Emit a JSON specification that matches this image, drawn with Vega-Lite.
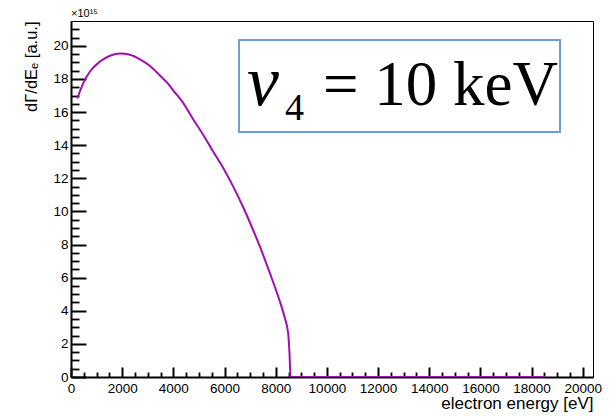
{
  "$schema": "https://vega.github.io/schema/vega-lite/v6.json",
  "autosize": "none",
  "width": 522,
  "height": 356,
  "padding": {"left": 71, "top": 21, "right": 23, "bottom": 39},
  "background": "white",
  "config": {
    "view": {"stroke": "black", "strokeWidth": 1},
    "font": "Liberation Sans",
    "axis": {"grid": false, "labelFont": "Liberation Sans", "titleFont": "Liberation Sans", "labelColor": "black", "titleColor": "black", "tickColor": "black", "domainColor": "black", "labelFontSize": 13.5, "titleFontWeight": "normal", "labelFlush": false, "labelOverlap": false}
  },
  "title": {"text": "×10¹⁵", "anchor": "start", "frame": "group", "fontSize": 11, "fontWeight": "normal", "font": "Liberation Sans", "offset": 2, "color": "black"},
  "datasets": {
    "curve": [
      {"energy": 246, "rate": 16.83},
      {"energy": 480, "rate": 17.75},
      {"energy": 742, "rate": 18.45},
      {"energy": 1133, "rate": 19.05},
      {"energy": 1523, "rate": 19.40},
      {"energy": 1914, "rate": 19.54},
      {"energy": 2305, "rate": 19.46},
      {"energy": 2695, "rate": 19.18},
      {"energy": 3086, "rate": 18.78},
      {"energy": 3450, "rate": 18.25},
      {"energy": 3800, "rate": 17.70},
      {"energy": 4000, "rate": 17.30},
      {"energy": 4388, "rate": 16.54},
      {"energy": 4779, "rate": 15.55},
      {"energy": 5168, "rate": 14.62},
      {"energy": 5559, "rate": 13.61},
      {"energy": 5950, "rate": 12.62},
      {"energy": 6340, "rate": 11.50},
      {"energy": 6730, "rate": 10.25},
      {"energy": 7000, "rate": 9.30},
      {"energy": 7383, "rate": 7.87},
      {"energy": 7773, "rate": 6.27},
      {"energy": 8164, "rate": 4.55},
      {"energy": 8350, "rate": 3.6},
      {"energy": 8490, "rate": 2.6},
      {"energy": 8540, "rate": 1.4},
      {"energy": 8580, "rate": 0},
      {"energy": 18550, "rate": 0}
    ],
    "box": [{"x1": 6566, "x2": 19110, "y1": 14.8, "y2": 20.35}],
    "nu": [{"x": 6878, "y": 16.43, "t": "ν"}],
    "sub": [{"x": 8363, "y": 15.52, "t": "4"}],
    "val": [{"x": 9848, "y": 16.43, "t": "= 10 keV"}]
  },
  "layer": [
    {
      "data": {"name": "curve"},
      "mark": {"type": "line", "color": "#a010b0", "strokeWidth": 2, "interpolate": "monotone", "clip": true},
      "encoding": {
        "x": {"field": "energy", "type": "quantitative", "scale": {"domain": [0, 20400], "nice": false, "zero": false},
          "axis": {"orient": "bottom", "values": [0,2000,4000,6000,8000,10000,12000,14000,16000,18000,20000], "format": "d", "tickSize": -10, "tickWidth": 2, "domainWidth": 2, "labelPadding": 14,
            "title": "electron energy [eV]", "titleAnchor": "end", "titleFontSize": 17, "titlePadding": 1}},
        "y": {"field": "rate", "type": "quantitative", "scale": {"domain": [0, 21.5], "nice": false, "zero": false},
          "axis": {"orient": "left", "values": [0,2,4,6,8,10,12,14,16,18,20], "format": "d", "tickSize": -15, "tickWidth": 2, "domainWidth": 2, "labelPadding": 18,
            "title": "dΓ/dEₑ [a.u.]", "titleAnchor": "end", "titleFontSize": 16.5, "titlePadding": 13}}
      }
    },
    {
      "data": {"name": "box"},
      "mark": {"type": "rect", "fill": "white", "stroke": "#6f9fd6", "strokeWidth": 2},
      "encoding": {
        "x": {"field": "x1", "type": "quantitative",
          "axis": {"orient": "bottom", "values": [500,1000,1500,2500,3000,3500,4500,5000,5500,6500,7000,7500,8500,9000,9500,10500,11000,11500,12500,13000,13500,14500,15000,15500,16500,17000,17500,18500,19000,19500], "labels": false, "domain": false, "tickSize": -5, "tickWidth": 1.8, "title": null}},
        "x2": {"field": "x2"},
        "y": {"field": "y1", "type": "quantitative",
          "axis": {"orient": "left", "values": [0.5,1,1.5,2.5,3,3.5,4.5,5,5.5,6.5,7,7.5,8.5,9,9.5,10.5,11,11.5,12.5,13,13.5,14.5,15,15.5,16.5,17,17.5,18.5,19,19.5,20.5,21], "labels": false, "domain": false, "tickSize": -8, "tickWidth": 1.8, "title": null}},
        "y2": {"field": "y2"}
      }
    },
    {
      "data": {"name": "nu"},
      "mark": {"type": "text", "align": "left", "baseline": "alphabetic", "font": "Liberation Serif", "fontStyle": "italic", "fontSize": 72, "color": "black"},
      "encoding": {
        "x": {"field": "x", "type": "quantitative", "axis": null},
        "y": {"field": "y", "type": "quantitative", "axis": null},
        "text": {"field": "t"}
      }
    },
    {
      "data": {"name": "sub"},
      "mark": {"type": "text", "align": "left", "baseline": "alphabetic", "font": "Liberation Serif", "fontSize": 38, "color": "black"},
      "encoding": {
        "x": {"field": "x", "type": "quantitative", "axis": null},
        "y": {"field": "y", "type": "quantitative", "axis": null},
        "text": {"field": "t"}
      }
    },
    {
      "data": {"name": "val"},
      "mark": {"type": "text", "align": "left", "baseline": "alphabetic", "font": "Liberation Serif", "fontSize": 63, "color": "black"},
      "encoding": {
        "x": {"field": "x", "type": "quantitative", "axis": null},
        "y": {"field": "y", "type": "quantitative", "axis": null},
        "text": {"field": "t"}
      }
    }
  ],
  "resolve": {"axis": {"x": "independent", "y": "independent"}}
}
